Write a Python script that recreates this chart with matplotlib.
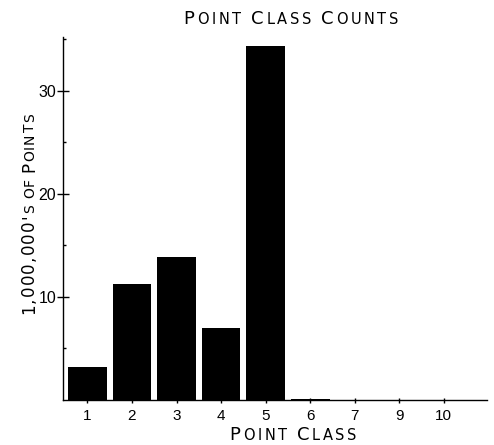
import numpy as np
import matplotlib
matplotlib.use("Agg")
import matplotlib.pyplot as plt
from matplotlib.transforms import IdentityTransform

# data
classes = ['1', '2', '3', '4', '5', '6', '7', '9', '10']
counts = [3.15, 11.25, 13.8, 6.95, 34.35, 0.06, 0.0, 0.0, 0.0]  # millions of points

title = "Point Class Counts"
xlabel = "Point Class"
ylabel = "1,000,000's of Points"

W, H = 494, 445
fig = plt.figure(figsize=(W / 100, H / 100), dpi=100)
ax = fig.add_axes([62.5 / W, 1 - 399.5 / H, (487 - 62.5) / W, (399.5 - 37) / H])

pos = np.arange(len(classes))
ax.bar(pos, counts, width=0.87, color='black', edgecolor='none')

ax.set_xlim(-0.56, len(classes) - 1 + 0.97)
ax.set_ylim(0, 35.2)
ax.set_xticks(pos)
ax.set_xticklabels(classes)
ax.set_yticks([10, 20, 30])
ax.set_yticks([5, 15, 25, 35], minor=True)

for side in ['top', 'right']:
    ax.spines[side].set_visible(False)
for side in ['left', 'bottom']:
    ax.spines[side].set_linewidth(1.0)

ax.tick_params(axis='y', which='major', direction='inout', length=8, width=1.0,
               labelsize=11.5, pad=0.5)
ax.tick_params(axis='y', which='minor', direction='in', length=2.2, width=1.0)
ax.tick_params(axis='x', which='major', direction='inout', length=3.6, width=1.0,
               labelsize=11, pad=5)
for lab in ax.get_xticklabels() + ax.get_yticklabels():
    lab.set_family('Liberation Sans')

renderer = fig.canvas.get_renderer()
SC_FONT = 'DejaVu Sans'


def small_caps(x, y, text, big, small, track, space=0.4, rotation=0):
    """Fake small caps, centred on x (or on y when rotated); pixels from top-left."""
    chars = []
    for ch in text:
        if ch == ' ':
            chars.append((None, big))
        else:
            chars.append((ch.upper(), small if ch.islower() else big))

    widths = []
    for s, size in chars:
        if s is None:
            widths.append(size * space * 100 / 72)
            continue
        t = fig.text(0, 0, s, fontsize=size, family=SC_FONT, transform=IdentityTransform())
        widths.append(t.get_window_extent(renderer).width + track)
        t.remove()

    total = sum(widths) - track
    start = -total / 2
    for (s, size), w in zip(chars, widths):
        if s is not None:
            if rotation == 0:
                px, py = x + start, H - y
            else:
                px, py = x, H - y + start
            fig.text(px, py, s, fontsize=size, family=SC_FONT, rotation=rotation,
                     rotation_mode='anchor', ha='left', va='baseline',
                     transform=IdentityTransform())
        start += w


small_caps(291, 24.5, title, 13, 10.5, 2.7)
small_caps(293, 440, xlabel, 13, 10.5, 2.7)
small_caps(34, 214, ylabel, 12, 10, 1.2, space=0.3, rotation=90)

fig.savefig('out.png', dpi=100)
